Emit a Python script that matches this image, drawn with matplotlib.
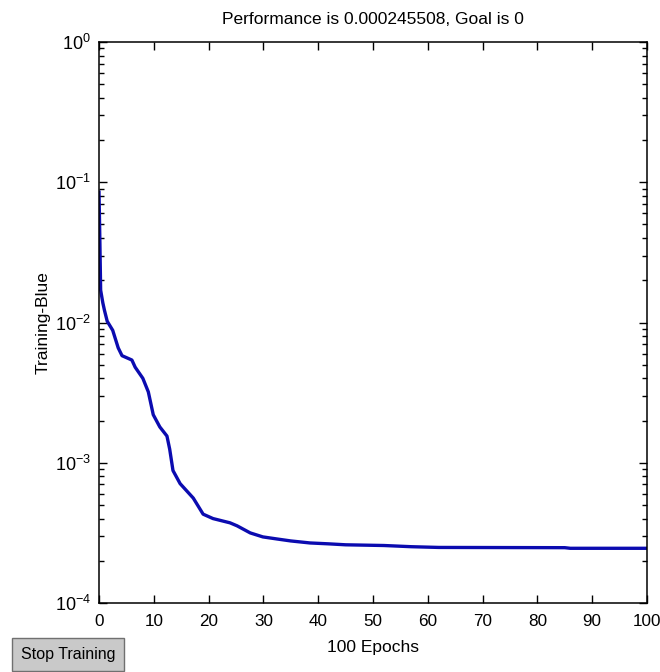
import matplotlib
matplotlib.use("Agg")
import matplotlib.pyplot as plt
from matplotlib.patches import Rectangle
from matplotlib.ticker import LogLocator, FixedLocator

plt.rcParams['font.family'] = ['Liberation Sans', 'DejaVu Sans']
plt.rcParams['mathtext.fontset'] = 'custom'
plt.rcParams['mathtext.rm'] = 'Liberation Sans'

epochs = [0, 0.15, 0.3, 0.7, 1, 1.5, 2.5, 3.5, 4.2, 6, 6.6, 8, 9, 9.9, 11.1, 12.4, 12.9, 13.5,
          14.8, 17.2, 19, 20.8, 23.9, 25.2, 27.6, 29.9, 32.5, 35, 38.5, 42, 45,
          52, 57, 62, 85, 86, 100]
performance = [0.085, 0.04, 0.017, 0.0138, 0.0122, 0.0102, 0.0088, 0.0066, 0.0058, 0.0054, 0.0048,
               0.0040, 0.0032, 0.0022, 0.0018, 0.00155, 0.00125, 0.00088,
               0.00071, 0.00056, 0.00043, 0.000400, 0.000373, 0.000355, 0.000316,
               0.000296, 0.000286, 0.000277, 0.000268, 0.000264, 0.000260,
               0.000257, 0.000252, 0.000249, 0.000248, 0.0002455, 0.000245508]
x_ticks = [0, 10, 20, 30, 40, 50, 60, 70, 80, 90, 100]
title_text = "Performance is 0.000245508, Goal is 0"
x_label = "100 Epochs"
y_label = "Training-Blue"
button_text = "Stop Training"

fig = plt.figure(figsize=(6.6, 6.72), dpi=100)
ax = fig.add_axes([99/660, 1 - 603/672, 548/660, 561/672])

ax.plot(epochs, performance, color='#0b0bb0', linewidth=2.4, solid_joinstyle='round')
ax.set_yscale('log')
ax.set_xlim(0, 100)
ax.set_ylim(1e-4, 1)
ax.xaxis.set_major_locator(FixedLocator(x_ticks))
ax.set_xticklabels([str(t) for t in x_ticks])
ax.yaxis.set_major_locator(LogLocator(base=10, numticks=10))
ax.yaxis.set_minor_locator(LogLocator(base=10, subs=range(2, 10), numticks=10))
ax.yaxis.set_minor_formatter(plt.NullFormatter())

ax.tick_params(which='major', direction='in', length=6, width=1, top=True, right=True,
               labelsize=13, pad=6, color='black')
ax.tick_params(axis='x', which='major', pad=8, labelsize=12.3)
ax.tick_params(which='minor', direction='in', length=3.5, width=1, top=True, right=True)
ax.tick_params(axis='x', which='minor', top=False, bottom=False)
for s in ax.spines.values():
    s.set_linewidth(1.1)

ax.set_title(title_text, fontsize=12.5, pad=13)
ax.set_xlabel(x_label, fontsize=12.5, labelpad=8)
ax.set_ylabel(y_label, fontsize=12.5, labelpad=3)

btn = Rectangle((12/660, 1 - 671/672), 112/660, 33/672, transform=fig.transFigure,
                facecolor='#c9c9c9', edgecolor='#707070', linewidth=1.0)
fig.patches.append(btn)
fig.text(68/660, 1 - 655/672, button_text, ha='center', va='center', fontsize=11.5)

fig.savefig("out.png", dpi=100)
